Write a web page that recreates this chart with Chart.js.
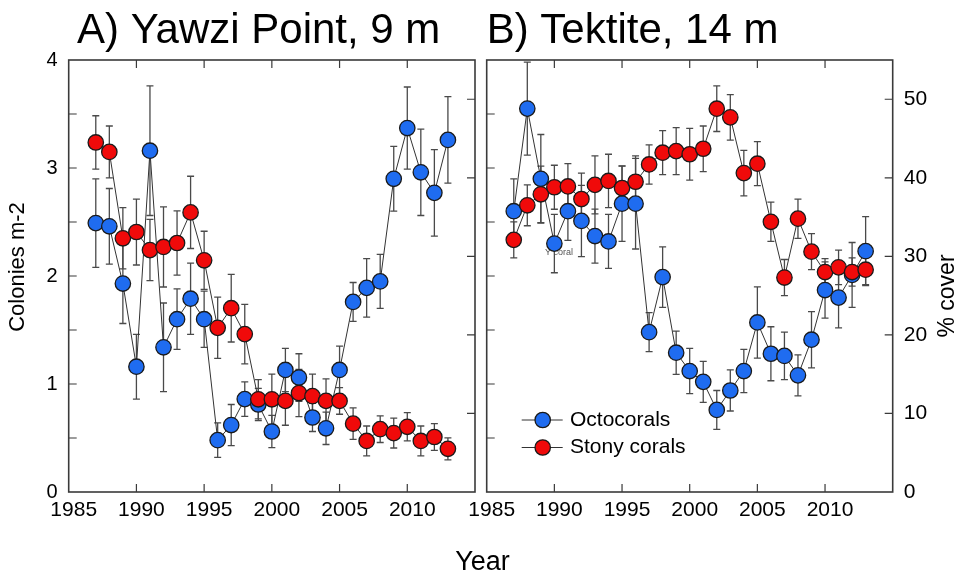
<!DOCTYPE html>
<html>
<head>
<meta charset="utf-8">
<script src="https://cdn.jsdelivr.net/npm/chart.js@4.4.1/dist/chart.umd.min.js"></script>
<style>
  html, body { margin:0; padding:0; background:#fff; }
  body { width:964px; height:579px; overflow:hidden; position:relative; }
  canvas { position:absolute; top:0; }
  #cA { left:0; }
  #cB { left:440px; }
</style>
</head>
<body>
<canvas id="cA" width="500" height="579"></canvas>
<canvas id="cB" width="524" height="579"></canvas>
<script>
// ---------------- data ----------------
const years = [1987,1988,1989,1990,1991,1992,1993,1994,1995,1996,1997,1998,1999,2000,
               2001,2002,2003,2004,2005,2006,2007,2008,2009,2010,2011,2012,2013];

const xTickValues = [1985,1990,1995,2000,2005,2010,2015];
const xTickLabels = ['1985','1990','1995','2000','2005','2010',''];
const colonyTicks = [0,1,2,3,4];
const colonyMinorTicks = [0,0.5,1,1.5,2,2.5,3,3.5,4];
const coverTicks = [0,10,20,30,40,50];

// A) Yawzi Point, 9 m
const yawziOcto    = [2.49,2.46,1.93,1.16,3.16,1.34,1.60,1.79,1.60,0.48,0.62,0.86,0.81,0.56,
                      1.13,1.06,0.69,0.59,1.13,1.76,1.89,1.95,2.90,3.37,2.96,2.77,3.26];
const yawziOctoErr = [0.41,0.35,0.37,0.30,0.60,0.41,0.28,0.33,0.26,0.16,0.19,0.16,0.15,0.15,
                      0.20,0.22,0.13,0.15,0.22,0.18,0.27,0.25,0.30,0.38,0.40,0.40,0.40];
const yawziStony    = [44.5,43.3,32.3,33.1,30.8,31.2,31.7,35.6,29.5,20.9,23.4,20.1,11.8,11.8,
                       11.6,12.6,12.2,11.6,11.6,8.7,6.5,8.0,7.5,8.3,6.5,7.0,5.5];
const yawziStonyErr = [3.4,3.3,3.9,4.2,3.9,5.1,4.1,4.6,3.7,3.9,4.3,3.8,2.5,3.2,
                       3.1,3.0,2.8,2.8,1.7,2.0,1.9,1.7,1.9,1.8,1.9,1.7,1.4];

// B) Tektite, 14 m
const tektiteOcto    = [2.60,3.55,2.90,2.30,2.60,2.51,2.37,2.32,2.67,2.67,1.48,1.99,1.29,1.12,
                        1.02,0.76,0.94,1.12,1.57,1.28,1.26,1.08,1.41,1.87,1.80,2.01,2.23];
const tektiteOctoErr = [0.30,0.43,0.41,0.27,0.27,0.33,0.25,0.25,0.35,0.42,0.18,0.28,0.20,0.21,
                        0.19,0.18,0.19,0.20,0.33,0.25,0.22,0.19,0.26,0.26,0.28,0.30,0.32];
const tektiteStony    = [32.1,36.5,37.9,38.8,38.9,37.3,39.1,39.6,38.7,39.5,41.7,43.2,43.4,43.0,
                         43.7,48.8,47.7,40.6,41.8,34.4,27.3,34.8,30.6,28.0,28.6,28.0,28.3];
const tektiteStonyErr = [2.3,2.6,3.6,2.8,2.9,3.3,3.7,3.4,2.8,3.3,2.5,2.8,3.0,3.3,
                         2.9,2.9,2.9,2.9,2.8,2.5,2.3,2.5,2.3,1.7,2.2,1.8,1.9];

const seriesNames = ['Octocorals','Stony corals'];

// ---------------- style ----------------
const FONT = "'Liberation Sans', Arial, Helvetica, sans-serif";
const BLUE = '#1f6cf0';
const RED  = '#f00a0a';
const EDGE = '#1a1a1a';
const FRAME = '#3a3a3a';
const ERRC = '#4a4a4a';
Chart.defaults.font.family = FONT;
Chart.defaults.color = '#000';

const framePlugin = {
  id: 'frame',
  beforeDatasetsDraw(chart) {
    const {ctx, chartArea: a, scales} = chart;
    ctx.save();
    ctx.strokeStyle = FRAME;
    ctx.lineWidth = 1.2;
    const L = 8;
    ctx.beginPath();
    xTickValues.forEach(v => {
      const px = scales.x.getPixelForValue(v);
      if (px <= a.left + 1 || px >= a.right - 1) return;
      ctx.moveTo(px, a.bottom); ctx.lineTo(px, a.bottom - L);
      ctx.moveTo(px, a.top); ctx.lineTo(px, a.top + L);
    });
    colonyMinorTicks.forEach(v => {
      const py = scales.y.getPixelForValue(v);
      if (py <= a.top + 1 || py >= a.bottom - 1) return;
      ctx.moveTo(a.left, py); ctx.lineTo(a.left + L, py);
    });
    coverTicks.forEach(v => {
      const py = scales.y2.getPixelForValue(v);
      if (py <= a.top + 1 || py >= a.bottom - 1) return;
      ctx.moveTo(a.right, py); ctx.lineTo(a.right - L, py);
    });
    ctx.stroke();
    ctx.lineWidth = 1.6;
    ctx.strokeRect(a.left, a.top, a.right - a.left, a.bottom - a.top);
    ctx.restore();
  }
};

const errorPlugin = {
  id: 'errbars',
  beforeDatasetsDraw(chart) {
    const {ctx} = chart;
    ctx.save();
    ctx.strokeStyle = ERRC;
    ctx.lineWidth = 1.3;
    chart.data.datasets.forEach((ds, di) => {
      const ys = chart.scales[ds.yAxisID];
      const xs = chart.scales.x;
      ds.data.forEach((p, i) => {
        const e = ds.errors[i];
        const px = xs.getPixelForValue(p.x);
        const top = ys.getPixelForValue(p.y + e);
        const bot = ys.getPixelForValue(p.y - e);
        ctx.beginPath();
        ctx.moveTo(px, top); ctx.lineTo(px, bot);
        ctx.moveTo(px - 3.5, top); ctx.lineTo(px + 3.5, top);
        ctx.moveTo(px - 3.5, bot); ctx.lineTo(px + 3.5, bot);
        ctx.stroke();
      });
    });
    ctx.restore();
  }
};

function textPlugin(drawFn) {
  return { id: 'texts', afterDraw(chart) { const c = chart.ctx; c.save(); drawFn(c, chart); c.restore(); } };
}

function marker(ctx, x, y, color) {
  ctx.beginPath();
  ctx.arc(x, y, 7.7, 0, Math.PI * 2);
  ctx.fillStyle = color; ctx.fill();
  ctx.lineWidth = 1.3; ctx.strokeStyle = EDGE; ctx.stroke();
}

function panel(id, opt) {
  const pts = arr => years.map((yr, i) => ({x: yr, y: arr[i]}));
  const common = {
    borderColor: '#333', borderWidth: 1, tension: 0, fill: false,
    pointRadius: 7.7, pointBorderColor: EDGE, pointBorderWidth: 1.3, clip: false
  };
  return new Chart(document.getElementById(id), {
    type: 'line',
    data: {
      datasets: [
        Object.assign({label: seriesNames[1], data: pts(opt.stony), errors: opt.stonyErr,
          yAxisID: 'y2', order: 0, pointBackgroundColor: RED, backgroundColor: RED}, common),
        Object.assign({label: seriesNames[0], data: pts(opt.octo), errors: opt.octoErr,
          yAxisID: 'y', order: 1, pointBackgroundColor: BLUE, backgroundColor: BLUE}, common)
      ]
    },
    options: {
      responsive: false, animation: false, events: [],
      layout: {padding: {top: 60, left: 0, right: 0, bottom: 0}},
      plugins: {legend: {display: false}, tooltip: {enabled: false}, title: {display: false}},
      scales: {
        x: {
          type: 'linear', position: 'bottom', min: 1985, max: 2015,
          afterBuildTicks: s => { s.ticks = xTickValues.map(v => ({value: v})); },
          ticks: {
            autoSkip: false, maxRotation: 0, padding: 6, labelOffset: 5,
            font: {size: 21}, color: '#000',
            callback: v => xTickLabels[xTickValues.indexOf(v)]
          },
          grid: {display: false, drawTicks: false}, border: {display: false},
          afterFit: s => { s.height = 87; }
        },
        y: {
          type: 'linear', position: 'left', min: 0, max: 4,
          afterBuildTicks: s => { s.ticks = colonyTicks.map(v => ({value: v})); },
          ticks: {display: opt.leftLabels, padding: 11, font: {size: 20}, color: '#000'},
          grid: {display: false, drawTicks: false}, border: {display: false},
          afterFit: s => { s.width = opt.leftW; }
        },
        y2: {
          type: 'linear', position: 'right', min: 0, max: 55,
          afterBuildTicks: s => { s.ticks = coverTicks.map(v => ({value: v})); },
          ticks: {display: opt.rightLabels, padding: 11, font: {size: 21}, color: '#000'},
          grid: {display: false, drawTicks: false}, border: {display: false},
          afterFit: s => { s.width = opt.rightW; }
        }
      }
    },
    plugins: [framePlugin, errorPlugin, textPlugin(opt.texts)].concat(opt.extra || [])
  });
}

// Left panel (canvas 500 wide, plot right edge at 475)
panel('cA', {
  octo: yawziOcto, octoErr: yawziOctoErr, stony: yawziStony, stonyErr: yawziStonyErr,
  leftLabels: true, rightLabels: false, leftW: 68.7, rightW: 25,
  texts: (ctx) => {
    ctx.fillStyle = '#000';
    ctx.font = '42px ' + FONT;
    ctx.textAlign = 'left'; ctx.textBaseline = 'alphabetic';
    ctx.fillText('A) Yawzi Point, 9 m', 77, 43);
    ctx.save();
    ctx.translate(18, 267);
    ctx.rotate(-Math.PI / 2);
    ctx.font = '22px ' + FONT;
    ctx.textAlign = 'center'; ctx.textBaseline = 'middle';
    ctx.fillText('Colonies m-2', 0, 0);
    ctx.restore();
  }
});

// Right panel (canvas offset 440px)
const OFF = 440;
const noteText = 'Y coral';
panel('cB', {
  octo: tektiteOcto, octoErr: tektiteOctoErr, stony: tektiteStony, stonyErr: tektiteStonyErr,
  leftLabels: false, rightLabels: true, leftW: 486.7 - OFF, rightW: 524 - (892.7 - OFF),
  extra: [{
    id: 'note',
    beforeDatasetsDraw(chart) {
      const c = chart.ctx; c.save();
      c.fillStyle = '#555'; c.font = '9px ' + FONT;
      c.textAlign = 'left'; c.textBaseline = 'middle';
      c.fillText(noteText, 545 - OFF, 253);
      c.restore();
    }
  }],
  texts: (ctx) => {
    ctx.fillStyle = '#000';
    ctx.font = '42px ' + FONT;
    ctx.textAlign = 'left'; ctx.textBaseline = 'alphabetic';
    ctx.fillText('B) Tektite, 14 m', 486.7 - OFF, 43);
    // % cover
    ctx.save();
    ctx.translate(948 - OFF, 296);
    ctx.rotate(-Math.PI / 2);
    ctx.font = '23px ' + FONT;
    ctx.textAlign = 'center'; ctx.textBaseline = 'middle';
    ctx.fillText('% cover', 0, 0);
    ctx.restore();
    // Year
    ctx.font = '27px ' + FONT;
    ctx.textAlign = 'center'; ctx.textBaseline = 'alphabetic';
    ctx.fillText('Year', 482.5 - OFF, 570);
    // legend
    const items = [[seriesNames[0], BLUE, 420], [seriesNames[1], RED, 447.5]];
    items.forEach(([name, col, y]) => {
      ctx.strokeStyle = '#333'; ctx.lineWidth = 1;
      ctx.beginPath(); ctx.moveTo(521.7 - OFF, y); ctx.lineTo(562.7 - OFF, y); ctx.stroke();
      marker(ctx, 542.7 - OFF, y, col);
      ctx.fillStyle = '#000';
      ctx.font = '21px ' + FONT;
      ctx.textAlign = 'left'; ctx.textBaseline = 'middle';
      ctx.fillText(name, 570 - OFF, y);
    });
  }
});
</script>
</body>
</html>
